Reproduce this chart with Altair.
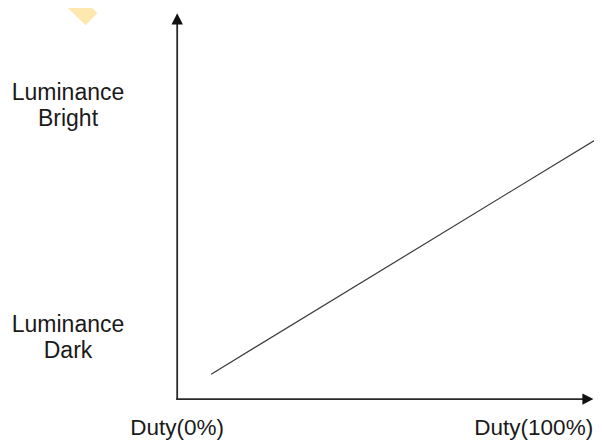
import altair as alt
import pandas as pd

# Data (in chart units: duty in %, luminance 0 = dark, 100 = bright)
line_duty = [9.4, 116.9]
line_lum = [-16.3, 86.3]

x_labels = ["Duty(0%)", "Duty(100%)"]
x_label_duty = [0, 100]
x_label_lum = -42.6

y_labels = ["Luminance\nBright", "Luminance\nDark"]
y_label_lum = [100, 0]
y_label_duty = -30.2

origin_duty = 0
origin_lum = -27.1
x_axis_end_duty = 113.6
y_axis_end_lum = 137.5

mark_duty = [-29.7, -23.7]
mark_lum = [146.5, 137.4]

X_DOMAIN = [-46.8, 115.29]
Y_DOMAIN = [-44.8, 142.2]

W = 586
H = 432

xs = alt.Scale(domain=X_DOMAIN, nice=False, zero=False)
ys = alt.Scale(domain=Y_DOMAIN, nice=False, zero=False)

def X(field):
    return alt.X(field, type="quantitative", scale=xs, axis=None)

def Y(field):
    return alt.Y(field, type="quantitative", scale=ys, axis=None)

wm = pd.DataFrame({"x": [mark_duty[0]], "x2": [mark_duty[1]], "y": [mark_lum[0]], "y2": [mark_lum[1]]})
wm_layer = alt.Chart(wm).mark_rule(color="#FFE8B0", strokeWidth=17, strokeCap="butt").encode(
    x=X("x"), x2="x2", y=Y("y"), y2="y2")

axes = pd.DataFrame({
    "x": [origin_duty, origin_duty],
    "x2": [x_axis_end_duty, origin_duty],
    "y": [origin_lum, origin_lum],
    "y2": [origin_lum, y_axis_end_lum],
})
axes_layer = alt.Chart(axes).mark_rule(color="#2a2a2a", strokeWidth=1.8, strokeCap="square").encode(
    x=X("x"), x2="x2", y=Y("y"), y2="y2")

arrows = pd.DataFrame({
    "x": [origin_duty, x_axis_end_duty],
    "y": [y_axis_end_lum, origin_lum],
    "shape": ["M0,-0.92L0.95,0.92L-0.95,0.92Z", "M0.92,0L-0.92,0.95L-0.92,-0.95Z"],
})
arrow_layer = alt.Chart(arrows).mark_point(filled=True, color="#111111", size=144, opacity=1).encode(
    x=X("x"), y=Y("y"), shape=alt.Shape("shape:N", scale=None, legend=None))

ln = pd.DataFrame({"duty": line_duty, "lum": line_lum})
line_layer = alt.Chart(ln).mark_line(color="#3a3a3a", strokeWidth=1.2).encode(
    x=X("duty"), y=Y("lum"))

xl0 = pd.DataFrame({"t": [x_labels[0]], "x": [x_label_duty[0]], "y": [x_label_lum]})
xl0_layer = alt.Chart(xl0).mark_text(font="Liberation Sans", fontSize=22.5, color="#1a1a1a",
                                     align="center", baseline="alphabetic").encode(
    x=X("x"), y=Y("y"), text="t:N")

xl1 = pd.DataFrame({"t": [x_labels[1]], "x": [x_label_duty[1]], "y": [x_label_lum]})
xl1_layer = alt.Chart(xl1).mark_text(font="Liberation Sans", fontSize=22.5, color="#1a1a1a",
                                     align="center", baseline="alphabetic", dx=-5).encode(
    x=X("x"), y=Y("y"), text="t:N")

yl = pd.DataFrame({"t": y_labels, "x": [y_label_duty, y_label_duty], "y": y_label_lum})
yl_layer = alt.Chart(yl).mark_text(font="Liberation Sans", fontSize=23, color="#1a1a1a",
                                   align="center", baseline="middle", lineBreak="\n",
                                   lineHeight=26, dy=-12).encode(
    x=X("x"), y=Y("y"), text="t:N")

chart = alt.layer(wm_layer, axes_layer, line_layer, arrow_layer, xl0_layer, xl1_layer, yl_layer).properties(
    width=W, height=H,
    autosize=alt.AutoSizeParams(type="none"),
    padding=0,
).configure_view(stroke=None)

chart.save("out.html", embed_options={"renderer": "svg", "actions": False})
